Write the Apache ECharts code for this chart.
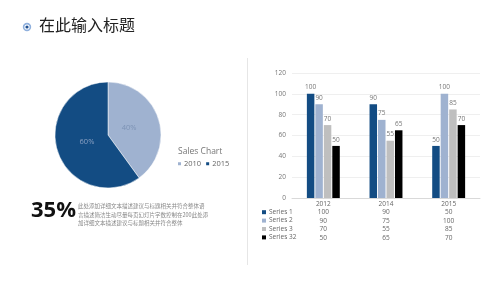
<!DOCTYPE html>
<html>
<head>
<meta charset="utf-8">
<script src="https://cdn.jsdelivr.net/npm/echarts@6/dist/echarts.min.js"></script>
<style>
  html, body { margin: 0; padding: 0; background: #fff; }
  #main { width: 500px; height: 281px; }
</style>
</head>
<body>
<div id="main"></div>
<script>
// 饼图数据
var pieNames = ['2010', '2015'];
var pieValues = [40, 60];

// 柱状图数据
var years = ['2012', '2014', '2015'];
var seriesNames = ['Series 1', 'Series 2', 'Series 3', 'Series 32'];
var s1 = [100, 90, 50];
var s2 = [90, 75, 100];
var s3 = [70, 55, 85];
var s4 = [50, 65, 70];
var yTicks = [0, 20, 40, 60, 80, 100, 120];

var barData = [s1, s2, s3, s4];
var colors = ['#134c83', '#9fb2d0', '#bfbfbf', '#000000'];
var font = '"Open Sans", "Noto Sans CJK SC", sans-serif';
var pieCenter = [108, 135];

var myChart = echarts.init(document.getElementById('main'));

var barSeries = barData.map(function (d, i) {
  return {
    name: seriesNames[i],
    type: 'bar',
    data: d,
    barWidth: 7.5,
    barGap: '13%',
    itemStyle: { color: colors[i] },
    label: { show: true, position: 'top', distance: 3, color: '#777', fontSize: 6.5, fontFamily: font }
  };
});

var option = {
  backgroundColor: '#fff',
  animation: false,
  textStyle: { fontFamily: font },
  grid: { left: 292, right: 20, top: 73, bottom: 83 },
  legend: [{
    data: pieNames,
    left: 176, top: 160, padding: 0,
    itemWidth: 5, itemHeight: 5, itemGap: 3,
    icon: 'rect',
    textStyle: { fontSize: 7.5, color: '#666', padding: [0, 0, 0, -3] }
  }, {
    data: seriesNames,
    orient: 'vertical',
    left: 262, top: 208, padding: 0,
    itemWidth: 4, itemHeight: 4, itemGap: 0,
    icon: 'rect',
    textStyle: { fontSize: 6.5, color: '#666', lineHeight: 8.4, padding: [0, 0, 0, -2] }
  }],
  xAxis: {
    type: 'category',
    data: years,
    axisTick: { show: false },
    axisLine: { lineStyle: { color: '#d9d9d9' } },
    axisLabel: {
      margin: 2,
      interval: 0,
      lineHeight: 8.4,
      fontSize: 6.5,
      color: '#666',
      formatter: function (val, idx) {
        var lines = [val];
        barData.forEach(function (d) { lines.push(d[idx]); });
        return lines.join('\n');
      }
    }
  },
  yAxis: {
    type: 'value',
    min: yTicks[0], max: yTicks[yTicks.length - 1], interval: 20,
    axisLine: { show: false },
    axisTick: { show: false },
    splitLine: { lineStyle: { color: '#efefef' } },
    axisLabel: { fontSize: 6.5, color: '#777', margin: 6 }
  },
  series: [{
    name: 'Sales Chart',
    type: 'pie',
    center: pieCenter,
    radius: 53,
    startAngle: 90,
    data: pieNames.map(function (n, i) {
      return {
        name: n, value: pieValues[i],
        itemStyle: { color: i === 0 ? '#9fb2d0' : '#134c83' },
        label: { color: i === 0 ? '#7d93b5' : '#8aa0c2' }
      };
    }),
    label: { show: true, position: 'inner', formatter: '{d}%', fontSize: 7.5 },
    // 标签往圆心靠一点
    labelLayout: function (p) {
      var r = p.labelRect;
      var cx = r.x + r.width / 2, cy = r.y + r.height / 2;
      return { dx: (pieCenter[0] - cx) * 0.25, dy: (pieCenter[1] - cy) * 0.25 };
    },
    labelLine: { show: false },
    itemStyle: { borderColor: '#fff', borderWidth: 0.5 }
  }].concat(barSeries),
  graphic: [
    { type: 'circle', shape: { cx: 27, cy: 27, r: 3.4 }, style: { fill: '#fff', stroke: '#8fb0dd', lineWidth: 1.6 } },
    { type: 'circle', shape: { cx: 27, cy: 27, r: 1.6 }, style: { fill: '#1f4f8f' } },
    { type: 'text', left: 39, top: 17, style: { text: '在此输入标题', font: '16px "Noto Sans CJK SC"', fill: '#222' } },
    { type: 'text', left: 178, top: 147, style: { text: 'Sales Chart', font: '8.5px "Open Sans"', fill: '#777' } },
    { type: 'line', shape: { x1: 247.5, y1: 58, x2: 247.5, y2: 265 }, style: { stroke: '#e6e6e6', lineWidth: 1 } },
    { type: 'text', left: 31, top: 200, style: { text: '35%', font: 'bold 22px "Open Sans"', fill: '#111' } },
    { type: 'text', left: 78, top: 202, style: {
      text: '此处添加详细文本描述建议与标题相关并符合整体语\n言描述简洁生动尽量每页幻灯片字数控制在200此处添\n加详细文本描述建议与标题相关并符合整体',
      font: '5.5px "Noto Sans CJK SC"', lineHeight: 8.5, fill: '#888' } }
  ]
};

myChart.setOption(option);
</script>
</body>
</html>
